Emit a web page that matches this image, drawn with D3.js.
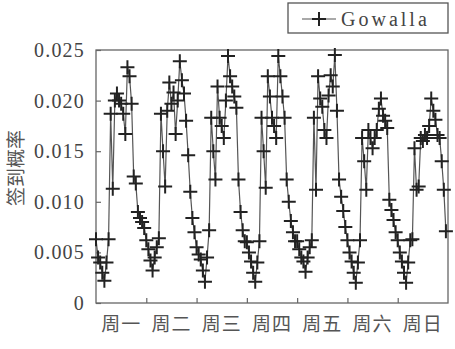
<!DOCTYPE html>
<html>
<head>
<meta charset="utf-8">
<script src="https://cdn.jsdelivr.net/npm/d3@7"></script>
<style>
  body { margin: 0; background: #fff; }
  svg { display: block; }
  .serif { font-family: 'Liberation Serif', 'Times New Roman', serif; }
</style>
</head>
<body>
<svg id="chart" width="455" height="349"></svg>
<script>
// hourly check-in probability, one array per weekday (24 values each)
const mon = [0.0063, 0.0045, 0.0040, 0.0030, 0.0022, 0.0040, 0.0063, 0.0187, 0.0113, 0.0200, 0.0207, 0.0200,
             0.0197, 0.0187, 0.0167, 0.0233, 0.0224, 0.0197, 0.0125, 0.0118, 0.0090, 0.0084, 0.0080, 0.0074];
const tue = [0.0062, 0.0053, 0.0042, 0.0032, 0.0045, 0.0055, 0.0064, 0.0187, 0.0150, 0.0115, 0.0190, 0.0218,
             0.0197, 0.0208, 0.0167, 0.0200, 0.0239, 0.0220, 0.0207, 0.0180, 0.0146, 0.0110, 0.0084, 0.0070];
const wed = [0.0055, 0.0048, 0.0043, 0.0032, 0.0021, 0.0045, 0.0072, 0.0183, 0.0150, 0.0122, 0.0214, 0.0183,
             0.0175, 0.0163, 0.0200, 0.0244, 0.0224, 0.0214, 0.0204, 0.0193, 0.0122, 0.0090, 0.0072, 0.0061];
const thu = [0.0060, 0.0050, 0.0041, 0.0030, 0.0021, 0.0040, 0.0061, 0.0183, 0.0150, 0.0114, 0.0224, 0.0204,
             0.0183, 0.0175, 0.0163, 0.0244, 0.0224, 0.0204, 0.0183, 0.0122, 0.0100, 0.0081, 0.0070, 0.0061];
const fri = [0.0061, 0.0053, 0.0045, 0.0041, 0.0031, 0.0045, 0.0055, 0.0062, 0.0183, 0.0112, 0.0224, 0.0202,
             0.0194, 0.0171, 0.0163, 0.0205, 0.0225, 0.0214, 0.0245, 0.0190, 0.0122, 0.0105, 0.0091, 0.0075];
const sat = [0.0062, 0.0050, 0.0041, 0.0030, 0.0020, 0.0040, 0.0062, 0.0163, 0.0140, 0.0112, 0.0171, 0.0163,
             0.0153, 0.0163, 0.0171, 0.0192, 0.0202, 0.0185, 0.0180, 0.0173, 0.0102, 0.0092, 0.0082, 0.0070];
const sun = [0.0062, 0.0050, 0.0041, 0.0030, 0.0020, 0.0040, 0.0062, 0.0063, 0.0153, 0.0112, 0.0115, 0.0163,
             0.0160, 0.0166, 0.0163, 0.0175, 0.0202, 0.0190, 0.0181, 0.0166, 0.0163, 0.0140, 0.0112, 0.0071];

const dayLabels = ['周一', '周二', '周三', '周四', '周五', '周六', '周日'];
const yTicks = [0, 0.005, 0.010, 0.015, 0.020, 0.025];
const yTickLabels = ['0', '0.005', '0.010', '0.015', '0.020', '0.025'];
const seriesName = 'Gowalla';

const values = [].concat(mon, tue, wed, thu, fri, sat, sun);
const data = values.map((v, i) => ({ hour: i, value: v }));

const plotLeft = 96, plotRight = 448, plotTop = 50, plotBottom = 303;

const svg = d3.select('#chart');

const x = d3.scaleLinear().domain([0, 168]).range([plotLeft, plotRight]);
const y = d3.scaleLinear().domain([0, 0.025]).range([plotBottom, plotTop]);

// frame
svg.append('rect')
    .attr('x', plotLeft).attr('y', plotTop)
    .attr('width', plotRight - plotLeft).attr('height', plotBottom - plotTop)
    .attr('fill', 'none')
    .attr('stroke', '#666')
    .attr('stroke-width', 1.3);

// y axis, ticks pointing inward
const yAxis = svg.append('g')
    .attr('transform', 'translate(' + plotLeft + ',0)')
    .call(d3.axisLeft(y)
        .tickValues(yTicks)
        .tickSize(-5)
        .tickPadding(11)
        .tickFormat((d, i) => yTickLabels[i]));
yAxis.attr('font-family', null).attr('font-size', null);
yAxis.select('.domain').remove();
yAxis.selectAll('line').attr('stroke', '#666').attr('stroke-width', 1.2);
yAxis.selectAll('text')
    .attr('class', 'serif')
    .attr('fill', '#444')
    .style('font-size', '20px')
    .style('letter-spacing', '1.2px');

// x axis: ticks at day boundaries, labels in the middle of each day
const xAxis = svg.append('g')
    .attr('transform', 'translate(0,' + plotBottom + ')')
    .call(d3.axisBottom(x)
        .tickValues(d3.range(1, 7).map(d => d * 24))
        .tickSize(-5)
        .tickFormat(''));
xAxis.select('.domain').remove();
xAxis.selectAll('line').attr('stroke', '#666').attr('stroke-width', 1.2);

svg.append('g')
  .selectAll('text')
  .data(dayLabels)
  .join('text')
    .attr('x', (d, i) => x(i * 24 + 12))
    .attr('y', 331)
    .attr('text-anchor', 'middle')
    .attr('fill', '#555')
    .style('font-family', '"Noto Sans CJK SC", sans-serif')
    .style('font-size', '19px')
    .style('letter-spacing', '1px')
    .text(d => d);

// y axis title
svg.append('text')
    .attr('transform', 'translate(23,168) rotate(-90)')
    .attr('text-anchor', 'middle')
    .attr('fill', '#555')
    .style('font-family', '"Noto Sans CJK SC", sans-serif')
    .style('font-size', '19px')
    .text('签到概率');

// line
svg.append('path')
    .datum(data)
    .attr('fill', 'none')
    .attr('stroke', '#555')
    .attr('stroke-width', 1.2)
    .attr('d', d3.line()
        .x(d => x(d.hour))
        .y(d => y(d.value)));

// plus markers
const plus = 'M-7,0H7M0,-7V7';
svg.append('g')
  .selectAll('path')
  .data(data)
  .join('path')
    .attr('transform', d => 'translate(' + x(d.hour) + ',' + y(d.value) + ')')
    .attr('d', plus)
    .attr('fill', 'none')
    .attr('stroke', '#222')
    .attr('stroke-width', 2);

// legend
const legend = svg.append('g');
legend.append('rect')
    .attr('x', 288).attr('y', 3)
    .attr('width', 160).attr('height', 30)
    .attr('fill', '#fff')
    .attr('stroke', '#555')
    .attr('stroke-width', 1.3);
legend.append('line')
    .attr('x1', 302).attr('x2', 336)
    .attr('y1', 19).attr('y2', 19)
    .attr('stroke', '#555')
    .attr('stroke-width', 1.2);
legend.append('path')
    .attr('transform', 'translate(319,19)')
    .attr('d', plus)
    .attr('fill', 'none')
    .attr('stroke', '#222')
    .attr('stroke-width', 2);
legend.append('text')
    .attr('class', 'serif')
    .attr('x', 341).attr('y', 26)
    .attr('fill', '#444')
    .style('font-size', '20px')
    .style('letter-spacing', '3px')
    .text(seriesName);
</script>
</body>
</html>
